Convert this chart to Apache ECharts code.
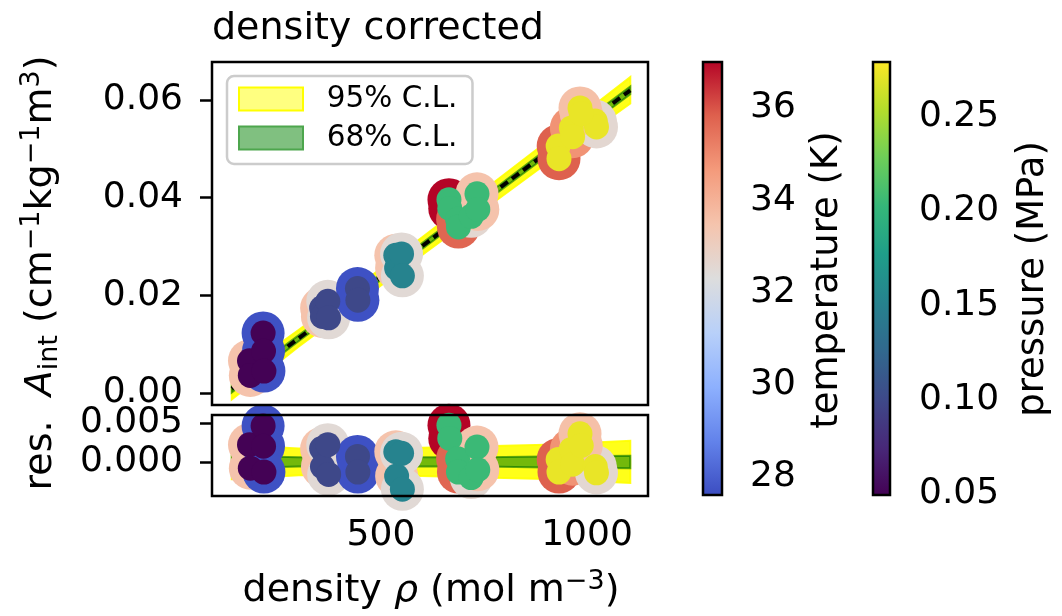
<!DOCTYPE html>
<html>
<head>
<meta charset="utf-8">
<script src="https://cdn.jsdelivr.net/npm/echarts@6/dist/echarts.min.js"></script>
<style>
  html, body { margin: 0; padding: 0; background: #fff; }
  #chart { width: 1062px; height: 616px; }
</style>
</head>
<body>
<div id="chart"></div>
<script>
const FONT = 'DejaVu Sans';

const rho     = [181, 183, 214, 215, 216, 356, 358, 371, 373, 443, 444, 536, 538, 550, 552,
                 665, 667, 686, 688, 719, 733, 735, 930, 932, 962, 965, 1020, 1023, 983, 986];
const aInt    = [0.0066, 0.0036, 0.0123, 0.0086, 0.0045, 0.0174, 0.0157, 0.0188, 0.0154, 0.0214, 0.0190,
                 0.0282, 0.0256, 0.0285, 0.0240, 0.0396, 0.0378, 0.0356, 0.0340, 0.0362, 0.0408, 0.0376,
                 0.0506, 0.0480, 0.0543, 0.0525, 0.0557, 0.0545, 0.0584, 0.0572];
const resid   = [0.0022, -0.0008, 0.0046, 0.0020, -0.0013, 0.0017, -0.0006, 0.0022, -0.0016, 0.0007, -0.0013,
                 0.0013, -0.0018, 0.0011, -0.0035, 0.0047, 0.0030, 0.0004, -0.0013, -0.0020, 0.0019, -0.0010,
                 0.0003, -0.0013, 0.0016, -0.0003, -0.0006, -0.0014, 0.0036, 0.0021];
const tempK   = [33.5, 33.5, 27.7, 27.7, 27.7, 33.5, 33.5, 32.5, 32.5, 27.7, 27.7, 33.5, 33.5, 32.5, 32.5,
                 37.0, 37.0, 35.7, 35.7, 32.6, 33.5, 33.5, 35.8, 35.8, 34.8, 34.8, 32.6, 32.6, 33.6, 33.6];
const presMPa = [0.050, 0.050, 0.050, 0.050, 0.050, 0.100, 0.100, 0.100, 0.100, 0.100, 0.100,
                 0.152, 0.152, 0.152, 0.152, 0.205, 0.205, 0.205, 0.205, 0.205, 0.205, 0.205,
                 0.272, 0.272, 0.272, 0.272, 0.272, 0.272, 0.272, 0.272];

// fit line and confidence bands, read at these densities
const bandRho = [138, 300, 450, 600, 750, 900, 1105];
const fitA    = [0.0009, 0.0112, 0.0206, 0.0301, 0.0396, 0.0491, 0.0620];
const half95  = [0.0022, 0.0017, 0.0017, 0.0018, 0.0020, 0.0022, 0.0027];
const half68  = [0.0008, 0.0006, 0.0006, 0.0006, 0.0006, 0.0007, 0.0008];

// tick labels
const xTicks = [500, 1000];
const aTicks = [0, 0.02, 0.04, 0.06];
const resTicks = [0, 0.005];
const tempTicks = [28, 30, 32, 34, 36];
const presTicks = [0.05, 0.10, 0.15, 0.20, 0.25];

const tRange = [27.6, 37.0];
const pRange = [0.0495, 0.279];

const coolwarm = ['#3b4cc0', '#6282ea', '#8db0fe', '#b8d0f9', '#dddddd', '#f5c4ad', '#f49a7b', '#de604d', '#b40426'];
const viridis = ['#440154', '#482878', '#3e4989', '#31688e', '#26828e', '#1f9e89', '#35b779', '#6ece58', '#b5de2b', '#fde725'];

const pts = rho.map((r, i) => [r, aInt[i], tempK[i], presMPa[i]]);
const resPts = rho.map((r, i) => [r, resid[i], tempK[i], presMPa[i]]);

const lo95 = fitA.map((v, i) => v - half95[i]), hi95 = fitA.map((v, i) => v + half95[i]);
const lo68 = fitA.map((v, i) => v - half68[i]), hi68 = fitA.map((v, i) => v + half68[i]);
const rlo95 = half95.map(h => -h), rlo68 = half68.map(h => -h);

function band(name, idx, lo, hi, fill, stroke) {
  return {
    name: name, type: 'custom', xAxisIndex: idx, yAxisIndex: idx, z: 2, silent: true,
    itemStyle: { color: fill },
    data: [[bandRho[0], lo[0]]],
    renderItem: function (params, api) {
      const p = [];
      for (let i = 0; i < bandRho.length; i++) p.push(api.coord([bandRho[i], hi[i]]));
      for (let i = bandRho.length - 1; i >= 0; i--) p.push(api.coord([bandRho[i], lo[i]]));
      return { type: 'polygon', shape: { points: p }, style: { fill: fill, stroke: stroke, lineWidth: 2 } };
    }
  };
}

function colorbar(idx, range, stops) {
  return {
    type: 'custom', xAxisIndex: idx, yAxisIndex: idx, silent: true,
    data: [[0, range[0]]],
    renderItem: function (params, api) {
      const a = api.coord([0, range[0]]), b = api.coord([1, range[1]]);
      return {
        type: 'rect',
        shape: { x: a[0], y: b[1], width: b[0] - a[0], height: a[1] - b[1] },
        style: {
          fill: new echarts.graphic.LinearGradient(0, 1, 0, 0,
            stops.map((c, i) => ({ offset: i / (stops.length - 1), color: c }))),
          stroke: '#000', lineWidth: 2.5
        }
      };
    }
  };
}

const tickStyle = { color: '#000', width: 2.5 };
const lblStyle = { color: '#000', fontSize: 36, fontFamily: FONT };

function valAxis(grid, min, max, ticks, fmt, margin, pos) {
  return {
    gridIndex: grid, type: 'value', min: min, max: max, position: pos,
    axisLine: { show: false }, splitLine: { show: false },
    axisTick: { show: true, customValues: ticks, length: 12, lineStyle: tickStyle },
    axisLabel: Object.assign({ customValues: ticks, margin: margin, formatter: fmt }, lblStyle)
  };
}

const chart = echarts.init(document.getElementById('chart'), null, { renderer: 'canvas' });

const supRich = {
  n: { fontSize: 38, fontFamily: FONT, color: '#000', lineHeight: 45 },
  i: { fontSize: 38, fontFamily: FONT, fontStyle: 'italic', color: '#000', lineHeight: 45 },
  sup: { fontSize: 27, fontFamily: FONT, color: '#000', verticalAlign: 'top' },
  sub: { fontSize: 27, fontFamily: FONT, color: '#000', verticalAlign: 'bottom' }
};

chart.setOption({
  animation: false,
  backgroundColor: '#fff',
  title: {
    text: 'density corrected', left: 207, top: 5,
    textStyle: { fontSize: 38, fontWeight: 'normal', color: '#000', fontFamily: FONT }
  },
  legend: {
    orient: 'vertical', left: 227, top: 76,
    padding: [8, 15, 11, 11], itemGap: 9, itemWidth: 64, itemHeight: 23,
    backgroundColor: 'rgba(255,255,255,0.8)', borderColor: '#cccccc', borderWidth: 2.5, borderRadius: 7,
    formatter: n => '  ' + n,
    textStyle: { fontSize: 29.5, color: '#000', fontFamily: FONT },
    selectedMode: false,
    data: [
      { name: '95% C.L.', icon: 'rect', itemStyle: { color: '#ffff80', borderColor: '#ffff00', borderWidth: 2 } },
      { name: '68% C.L.', icon: 'rect', itemStyle: { color: '#80c080', borderColor: '#4da64d', borderWidth: 2 } }
    ]
  },
  grid: [
    { left: 212, top: 62, width: 436, height: 343 },
    { left: 212, top: 415, width: 436, height: 81 },
    { left: 703, top: 62, width: 19, height: 433 },
    { left: 873, top: 62, width: 17, height: 433 }
  ],
  xAxis: [
    { gridIndex: 0, type: 'value', min: 90, max: 1148, axisLine: { show: false }, axisTick: { show: false },
      axisLabel: { show: false }, splitLine: { show: false } },
    valAxis(1, 90, 1148, xTicks, v => String(v), 22),
    { gridIndex: 2, type: 'value', min: 0, max: 1, show: false },
    { gridIndex: 3, type: 'value', min: 0, max: 1, show: false }
  ],
  yAxis: [
    valAxis(0, -0.00245, 0.0678, aTicks, v => v.toFixed(2), 29),
    valAxis(1, -0.00436, 0.006, resTicks, v => v.toFixed(3), 29),
    valAxis(2, tRange[0], tRange[1], tempTicks, v => String(v), 28, 'right'),
    valAxis(3, pRange[0], pRange[1], presTicks, v => v.toFixed(2), 29, 'right')
  ],
  visualMap: [
    { type: 'continuous', show: false, seriesIndex: [5, 7], dimension: 2, min: tRange[0], max: tRange[1],
      inRange: { color: coolwarm } },
    { type: 'continuous', show: false, seriesIndex: [6, 8], dimension: 3, min: pRange[0], max: pRange[1],
      inRange: { color: viridis } }
  ],
  series: [
    band('95% C.L.', 0, lo95, hi95, 'rgba(255,255,0,0.9)', 'rgba(255,255,0,0.9)'),
    band('68% C.L.', 0, lo68, hi68, 'rgba(0,128,0,0.55)', 'rgba(0,110,0,0.6)'),
    {
      type: 'line', xAxisIndex: 0, yAxisIndex: 0, z: 2, silent: true, showSymbol: false,
      data: bandRho.map((r, i) => [r, fitA[i]]),
      lineStyle: { color: '#000', width: 4, type: [9, 5] }
    },
    band('95% C.L.', 1, rlo95, half95, 'rgba(255,255,0,0.9)', 'rgba(255,255,0,0.9)'),
    band('68% C.L.', 1, rlo68, half68, 'rgba(0,128,0,0.55)', 'rgba(0,110,0,0.6)'),
    { type: 'scatter', xAxisIndex: 0, yAxisIndex: 0, z: 3, silent: true, clip: true, symbolSize: 43,
      itemStyle: { opacity: 1 }, emphasis: { disabled: true }, data: pts },
    { type: 'scatter', xAxisIndex: 0, yAxisIndex: 0, z: 4, silent: true, clip: true, symbolSize: 25,
      itemStyle: { opacity: 1 }, emphasis: { disabled: true }, data: pts },
    { type: 'scatter', xAxisIndex: 1, yAxisIndex: 1, z: 3, silent: true, clip: true, symbolSize: 43,
      itemStyle: { opacity: 1 }, emphasis: { disabled: true }, data: resPts },
    { type: 'scatter', xAxisIndex: 1, yAxisIndex: 1, z: 4, silent: true, clip: true, symbolSize: 25,
      itemStyle: { opacity: 1 }, emphasis: { disabled: true }, data: resPts },
    colorbar(2, tRange, coolwarm),
    colorbar(3, pRange, viridis)
  ],
  graphic: [
    { type: 'rect', z: 100, silent: true, shape: { x: 212, y: 62, width: 436, height: 343 },
      style: { fill: 'none', stroke: '#000', lineWidth: 2.5 } },
    { type: 'rect', z: 100, silent: true, shape: { x: 212, y: 415, width: 436, height: 81 },
      style: { fill: 'none', stroke: '#000', lineWidth: 2.5 } },
    { type: 'text', z: 100, silent: true, x: 41, y: 273, rotation: Math.PI / 2,
      style: { text: '{n|res.  }{i|A}{sub|int}{n| (cm}{sup|−1}{n|kg}{sup|−1}{n|m}{sup|3}{n|)}',
        rich: supRich, align: 'center', verticalAlign: 'middle' } },
    { type: 'text', z: 100, silent: true, x: 431, y: 591,
      style: { text: '{n|density }{i|ρ}{n| (mol m}{sup|−3}{n|)}',
        rich: supRich, align: 'center', verticalAlign: 'middle' } },
    { type: 'text', z: 100, silent: true, x: 827, y: 280, rotation: Math.PI / 2,
      style: { text: 'temperature (K)', fontSize: 37, fontFamily: FONT, fill: '#000',
        align: 'center', verticalAlign: 'middle' } },
    { type: 'text', z: 100, silent: true, x: 1033, y: 279, rotation: Math.PI / 2,
      style: { text: 'pressure (MPa)', fontSize: 37, fontFamily: FONT, fill: '#000',
        align: 'center', verticalAlign: 'middle' } }
  ]
});
</script>
</body>
</html>
